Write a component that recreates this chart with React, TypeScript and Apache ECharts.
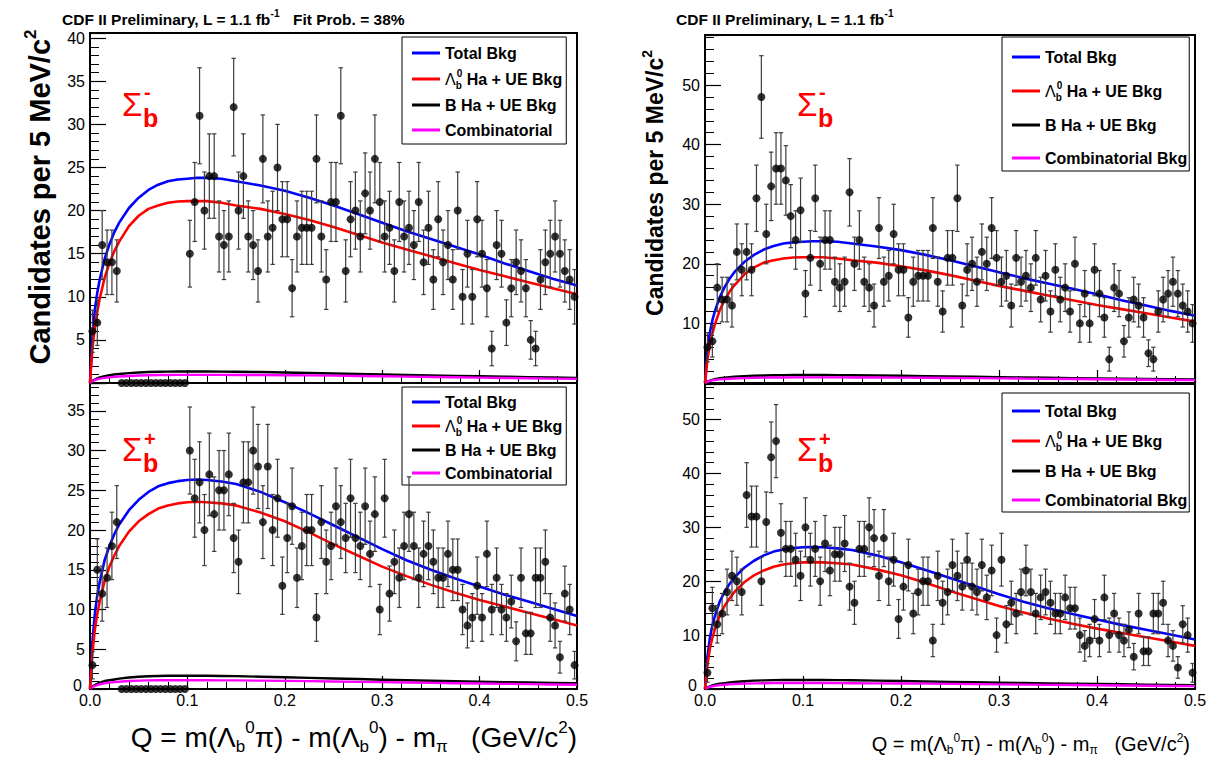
import React, { useEffect, useRef } from "react";
import * as echarts from "echarts";

const FONT = '"Liberation Sans", Arial, Helvetica, sans-serif';

// ---------------- data ----------------
const BIN_WIDTH = 0.005; // GeV/c^2 per bin (5 MeV/c^2)
const BLIND_LOW = 0.03; // left-hand plots: signal region kept blind
const BLIND_HIGH = 0.1;

// Candidates per 5 MeV/c^2, Sigma_b^- sample (100 bins from 0 to 0.5)
const sigmaMinusCounts = [
  6, 7, 16, 14, 14, 13, 22, 19, 22, 19,
  31, 48, 25, 33, 36, 36, 34, 28, 24, 29,
  15, 21, 31, 20, 24, 24, 17, 16, 17, 32,
  20, 24, 17, 16, 13, 26, 17, 18, 25, 19,
  19, 11, 17, 18, 18, 18, 26, 17, 12, 21,
  21, 31, 13, 19, 20, 17, 22, 20, 26, 21,
  17, 18, 13, 21, 17, 18, 16, 21, 14, 18,
  12, 19, 14, 16, 12, 20, 10, 15, 10, 19,
  15, 11, 4, 16, 15, 7, 11, 14, 13, 11,
  5, 4, 12, 14, 15, 17, 15, 13, 12, 10,
];

// Candidates per 5 MeV/c^2, Sigma_b^+ sample
const sigmaPlusCounts = [
  3, 15, 12, 14, 18, 21, 20, 18, 36, 32,
  32, 20, 31, 43, 46, 29, 26, 26, 24, 21,
  30, 24, 26, 20, 27, 22, 25, 25, 27, 19,
  16, 26, 26, 30, 28, 21, 28, 20, 24, 13,
  19, 23, 14, 18, 20, 20, 9, 21, 16, 18,
  23, 21, 19, 24, 19, 18, 23, 17, 22, 10,
  24, 12, 16, 14, 18, 22, 18, 14, 17, 18,
  16, 14, 14, 17, 15, 15, 10, 8, 9, 13,
  9, 17, 10, 14, 10, 9, 11, 6, 14, 7,
  7, 14, 14, 16, 9, 8, 4, 12, 10, 3,
];

// background fit curves, read at these Q values
const curveQ = [0, 0.0025, 0.005, 0.0075, 0.01, 0.015, 0.02, 0.025, 0.03, 0.04, 0.05, 0.06, 0.07, 0.08, 0.09, 0.1, 0.11, 0.12, 0.135, 0.15, 0.175, 0.2, 0.225, 0.25, 0.275, 0.3, 0.325, 0.35, 0.375, 0.4, 0.425, 0.45, 0.475, 0.5];

const minusTotal = [0, 5.5, 8.5, 10.5, 12.0, 14.4, 16.1, 17.5, 18.6, 20.3, 21.5, 22.4, 23.0, 23.4, 23.6, 23.7, 23.8, 23.8, 23.7, 23.4, 22.9, 22.3, 21.5, 20.6, 19.6, 18.6, 17.6, 16.7, 15.8, 14.9, 13.9, 13.0, 12.1, 11.3];
const minusLambda = [0, 4.0, 6.5, 8.3, 9.8, 12.2, 13.9, 15.3, 16.4, 18.2, 19.4, 20.2, 20.6, 20.9, 21.05, 21.1, 21.1, 21.1, 20.9, 20.6, 20.2, 19.6, 18.9, 18.1, 17.2, 16.3, 15.5, 14.7, 13.9, 13.1, 12.4, 11.7, 11.0, 10.3];
const minusBHa = [0, 0.25, 0.4, 0.53, 0.65, 0.8, 0.9, 0.98, 1.05, 1.15, 1.22, 1.27, 1.3, 1.32, 1.33, 1.33, 1.33, 1.33, 1.32, 1.31, 1.27, 1.22, 1.16, 1.1, 1.04, 0.98, 0.92, 0.87, 0.82, 0.78, 0.73, 0.68, 0.63, 0.58];
const minusComb = [0, 0.2, 0.35, 0.43, 0.5, 0.6, 0.66, 0.71, 0.75, 0.82, 0.87, 0.9, 0.92, 0.93, 0.94, 0.94, 0.94, 0.94, 0.94, 0.93, 0.92, 0.9, 0.88, 0.85, 0.82, 0.78, 0.74, 0.7, 0.66, 0.62, 0.58, 0.55, 0.51, 0.48];

const plusTotal = [0, 6.0, 9.5, 11.8, 13.5, 16.2, 18.0, 19.5, 20.7, 22.5, 23.8, 24.8, 25.5, 25.9, 26.15, 26.3, 26.35, 26.3, 26.1, 25.8, 24.8, 23.5, 22.1, 20.6, 19.1, 17.6, 16.2, 15.0, 13.9, 12.9, 11.9, 11.0, 10.1, 9.2];
const plusLambda = [0, 4.5, 7.5, 9.5, 11.0, 13.6, 15.4, 16.8, 18.0, 19.8, 21.1, 22.0, 22.7, 23.1, 23.35, 23.5, 23.55, 23.5, 23.35, 23.1, 22.2, 21.1, 19.7, 18.2, 16.8, 15.4, 14.2, 13.1, 12.1, 11.2, 10.4, 9.6, 8.8, 8.0];
const plusBHa = [0, 0.3, 0.5, 0.66, 0.8, 1.0, 1.1, 1.2, 1.3, 1.45, 1.55, 1.6, 1.64, 1.66, 1.67, 1.67, 1.67, 1.66, 1.64, 1.62, 1.55, 1.48, 1.4, 1.32, 1.25, 1.17, 1.1, 1.03, 0.97, 0.92, 0.87, 0.82, 0.77, 0.72];
const plusComb = [0, 0.25, 0.4, 0.5, 0.6, 0.72, 0.8, 0.87, 0.92, 1.0, 1.05, 1.08, 1.1, 1.1, 1.1, 1.1, 1.1, 1.1, 1.09, 1.08, 1.05, 1.02, 0.99, 0.95, 0.9, 0.86, 0.82, 0.77, 0.73, 0.69, 0.65, 0.61, 0.57, 0.53];

const LAMBDA_NAME = "Λb0 Ha + UE Bkg";
const legendNamesLeft = ["Total Bkg", LAMBDA_NAME, "B Ha + UE Bkg", "Combinatorial"];
const legendNamesRight = ["Total Bkg", LAMBDA_NAME, "B Ha + UE Bkg", "Combinatorial Bkg"];
const curveColors = ["#0000ff", "#ff0000", "#000000", "#ff00ff"];

// ---------------- layout ----------------
type Panel = {
  counts: number[];
  curves: number[][];
  blind: boolean;
  names: string[];
  left: number; top: number; width: number; height: number;
  yMax: number; yInterval: number; showZero: boolean; showX: boolean;
  legend: { left: number; top: number; padding: number[]; itemGap: number };
};

const PANELS: Panel[] = [
  {
    counts: sigmaMinusCounts, curves: [minusTotal, minusLambda, minusBHa, minusComb], blind: true, names: legendNamesLeft,
    left: 90, top: 33, width: 487, height: 350, yMax: 40.6, yInterval: 5, showZero: false, showX: false,
    legend: { left: 402, top: 37, padding: [6, 4, 4, 10], itemGap: 5 },
  },
  {
    counts: sigmaPlusCounts, curves: [plusTotal, plusLambda, plusBHa, plusComb], blind: true, names: legendNamesLeft,
    left: 90, top: 383, width: 487, height: 306, yMax: 38.5, yInterval: 5, showZero: true, showX: true,
    legend: { left: 402, top: 387, padding: [5, 4, 2, 10], itemGap: 3 },
  },
  {
    counts: sigmaMinusCounts, curves: [minusTotal, minusLambda, minusBHa, minusComb], blind: false, names: legendNamesRight,
    left: 705, top: 35, width: 490, height: 348, yMax: 58.4, yInterval: 10, showZero: false, showX: false,
    legend: { left: 1002, top: 37, padding: [10, 2, 3, 10], itemGap: 13 },
  },
  {
    counts: sigmaPlusCounts, curves: [plusTotal, plusLambda, plusBHa, plusComb], blind: false, names: legendNamesRight,
    left: 705, top: 384, width: 490, height: 305, yMax: 56.6, yInterval: 10, showZero: true, showX: true,
    legend: { left: 1002, top: 393, padding: [8, 2, 2, 10], itemGap: 9 },
  },
];

function buildOption() {
  const grid = PANELS.map((p) => ({
    left: p.left, top: p.top, width: p.width, height: p.height,
    show: true, borderColor: "#000", borderWidth: 2, backgroundColor: "rgba(0,0,0,0)",
  }));

  const xAxis = PANELS.map((p, k) => ({
    gridIndex: k, type: "value", min: 0, max: 0.5, interval: 0.1,
    axisLine: { show: true, onZero: false, lineStyle: { color: "#000", width: 2 } },
    axisTick: { show: true, inside: true, length: 13, lineStyle: { color: "#000", width: 1.2 } },
    minorTick: { show: true, splitNumber: 5, length: 7, lineStyle: { color: "#000", width: 1 } },
    splitLine: { show: false },
    axisLabel: {
      show: p.showX, color: "#000", fontSize: 16, fontFamily: FONT, margin: 5, lineHeight: 12,
      showMinLabel: true, showMaxLabel: true,
      formatter: (v: number) => v.toFixed(1),
    },
  }));

  const yAxis = PANELS.map((p, k) => ({
    gridIndex: k, type: "value", min: 0, max: p.yMax, interval: p.yInterval,
    axisLine: { show: true, onZero: false, lineStyle: { color: "#000", width: 2 } },
    axisTick: { show: true, inside: true, length: 16, lineStyle: { color: "#000", width: 1.2 } },
    minorTick: { show: true, splitNumber: 5, length: 9, lineStyle: { color: "#000", width: 1 } },
    splitLine: { show: false },
    axisLabel: {
      color: "#000", fontSize: 16, fontFamily: FONT, margin: 5, lineHeight: 10,
      showMinLabel: true, showMaxLabel: true,
      rich: { z: { fontSize: 16, fontFamily: FONT, color: "#000", lineHeight: 10, padding: [0, 3, 8, 0] } },
      formatter: (v: number) => {
        const r = v / p.yInterval;
        if (Math.abs(r - Math.round(r)) > 1e-6) return "";
        if (v === 0) return p.showZero ? "{z|0}" : "";
        return String(Math.round(v));
      },
    },
  }));

  const series: any[] = [];
  PANELS.forEach((p, k) => {
    // fit curves
    p.curves.forEach((vals, c) => {
      series.push({
        type: "line", name: p.names[c], xAxisIndex: k, yAxisIndex: k,
        data: curveQ.map((q, i) => [q, vals[i]]),
        smooth: false, showSymbol: false, symbol: "none",
        color: curveColors[c],
        lineStyle: { color: curveColors[c], width: c < 2 ? 2.6 : 2.4, join: "round" },
        z: 2 + (c < 2 ? 1 : 0),
      });
    });
    const pts = p.counts.map((n, i) => {
      const q = (i + 0.5) * BIN_WIDTH;
      const blinded = p.blind && q > BLIND_LOW && q < BLIND_HIGH;
      return { q, v: blinded ? 0 : n, blinded };
    });
    // error bars (Poisson)
    series.push({
      type: "custom", name: "data errors", xAxisIndex: k, yAxisIndex: k, z: 4,
      data: pts.filter((d) => !d.blinded && d.v > 0).map((d) => [d.q, d.v - Math.sqrt(d.v), d.v + Math.sqrt(d.v)]),
      encode: { x: 0, y: [1, 2] },
      renderItem: (params: any, api: any) => {
        const x = api.value(0);
        const p1 = api.coord([x, api.value(1)]);
        const p2 = api.coord([x, api.value(2)]);
        const c = 2.2;
        const style = { stroke: "#3c3c3c", lineWidth: 1.2 };
        return {
          type: "group",
          children: [
            { type: "line", shape: { x1: p1[0], y1: p1[1], x2: p2[0], y2: p2[1] }, style },
            { type: "line", shape: { x1: p1[0] - c, y1: p1[1], x2: p1[0] + c, y2: p1[1] }, style },
            { type: "line", shape: { x1: p2[0] - c, y1: p2[1], x2: p2[0] + c, y2: p2[1] }, style },
          ],
        };
      },
    });
    // data points
    series.push({
      type: "scatter", name: "data", xAxisIndex: k, yAxisIndex: k, z: 5,
      data: pts.map((d) => [d.q, d.v]),
      symbol: "circle", symbolSize: 8, clip: false,
      itemStyle: { color: "#000" },
    });
  });

  const legendRich = {
    L: { fontFamily: FONT, fontSize: 16, fontWeight: "normal", color: "#000", lineHeight: 22, align: "left" },
    sb: { fontFamily: FONT, fontSize: 10, fontWeight: "bold", color: "#000", lineHeight: 9, verticalAlign: "bottom", width: 1, align: "left" },
    sp: { fontFamily: FONT, fontSize: 10, fontWeight: "bold", color: "#000", lineHeight: 9, verticalAlign: "top", align: "left" },
    t: { fontFamily: FONT, fontSize: 16, fontWeight: "bold", color: "#000", lineHeight: 22, align: "left" },
  };

  const legend = PANELS.map((p) => ({
    data: p.names,
    left: p.legend.left, top: p.legend.top, padding: p.legend.padding, itemGap: p.legend.itemGap,
    orient: "vertical", icon: "rect", itemWidth: 28, itemHeight: 3, selectedMode: false,
    backgroundColor: "#fff", borderColor: "#000", borderWidth: 1,
    textStyle: { fontFamily: FONT, fontSize: 16, fontWeight: "bold", color: "#000", lineHeight: 20, rich: legendRich },
    formatter: (name: string) => (name === LAMBDA_NAME ? "{L|Λ}{sb|b}{sp|0}{t| Ha + UE Bkg}" : name),
  }));

  const red = "#ff0000";
  const sigmaLabel = (x: number, y: number, charge: string) => [
    { type: "text", x, y, z: 10, style: { text: "Σ", fill: red, fontFamily: FONT, fontSize: 33, align: "left", verticalAlign: "middle" } },
    { type: "text", x: x + 22, y: charge === "+" ? y - 10 : y - 12, z: 10, style: { text: charge, fill: red, fontFamily: FONT, fontWeight: "bold", fontSize: 20, lineHeight: 18, align: "left", verticalAlign: "middle" } },
    { type: "text", x: x + 21, y: y + 14, z: 10, style: { text: "b", fill: red, fontFamily: FONT, fontWeight: "bold", fontSize: 25, lineHeight: 22, align: "left", verticalAlign: "middle" } },
  ];

  const titleRich = (size: number) => ({
    sup: { fontFamily: FONT, fontWeight: "bold", fontSize: size, lineHeight: size, verticalAlign: "top", color: "#000", align: "left" },
  });

  const xTitleRich = (small: number) => ({
    sp: { fontFamily: FONT, fontSize: small, lineHeight: small, verticalAlign: "top", align: "left", color: "#000" },
    sub: { fontFamily: FONT, fontSize: small, lineHeight: small, verticalAlign: "bottom", align: "left", color: "#000" },
  });
  const xTitleText = "Q = m(Λ{sub|b}{sp|0}π) - m(Λ{sub|b}{sp|0}) - m{sub|π}   (GeV/c{sp|2})";

  const graphic: any[] = [
    { type: "text", x: 62, y: 19, style: { text: "CDF II Preliminary, L = 1.1 fb{sup|-1}", fontFamily: FONT, fontWeight: "bold", fontSize: 15.5, lineHeight: 22, fill: "#000", align: "left", verticalAlign: "middle", rich: titleRich(10) } },
    { type: "text", x: 293, y: 19, style: { text: "Fit Prob. = 38%", fontFamily: FONT, fontWeight: "bold", fontSize: 15.5, fill: "#000", align: "left", verticalAlign: "middle" } },
    { type: "text", x: 676, y: 19, style: { text: "CDF II Preliminary, L = 1.1 fb{sup|-1}", fontFamily: FONT, fontWeight: "bold", fontSize: 15.5, lineHeight: 22, fill: "#000", align: "left", verticalAlign: "middle", rich: titleRich(10) } },
    { type: "text", x: 40, y: 197, rotation: Math.PI / 2, style: { text: "Candidates per 5 MeV/c{sup|2}", fontFamily: FONT, fontWeight: "bold", fontSize: 29, lineHeight: 36, fill: "#000", align: "center", verticalAlign: "middle", rich: titleRich(17) } },
    { type: "text", x: 655, y: 183, rotation: Math.PI / 2, style: { text: "Candidates per 5 MeV/c{sup|2}", fontFamily: FONT, fontWeight: "bold", fontSize: 23, lineHeight: 30, fill: "#000", align: "center", verticalAlign: "middle", rich: titleRich(14) } },
    { type: "text", x: 577, y: 737, style: { text: xTitleText, fontFamily: FONT, fontSize: 28, lineHeight: 36, fill: "#000", align: "right", verticalAlign: "middle", rich: xTitleRich(17) } },
    { type: "text", x: 1190, y: 744, style: { text: xTitleText, fontFamily: FONT, fontSize: 20, lineHeight: 24, fill: "#000", align: "right", verticalAlign: "middle", rich: xTitleRich(12) } },
    ...sigmaLabel(122, 104, "-"),
    ...sigmaLabel(122, 449, "+"),
    ...sigmaLabel(797, 104, "-"),
    ...sigmaLabel(797, 449, "+"),
  ];

  return {
    animation: false,
    backgroundColor: "#fff",
    textStyle: { fontFamily: FONT },
    grid, xAxis, yAxis, series, legend, graphic,
  };
}

export default function App() {
  const ref = useRef<HTMLDivElement>(null);
  useEffect(() => {
    if (!ref.current) return;
    const chart = echarts.init(ref.current, undefined, { renderer: "svg" });
    chart.setOption(buildOption() as any);
    return () => chart.dispose();
  }, []);
  return <div ref={ref} style={{ position: "absolute", left: 0, top: 0, width: 1219, height: 760, background: "#fff" }} />;
}
